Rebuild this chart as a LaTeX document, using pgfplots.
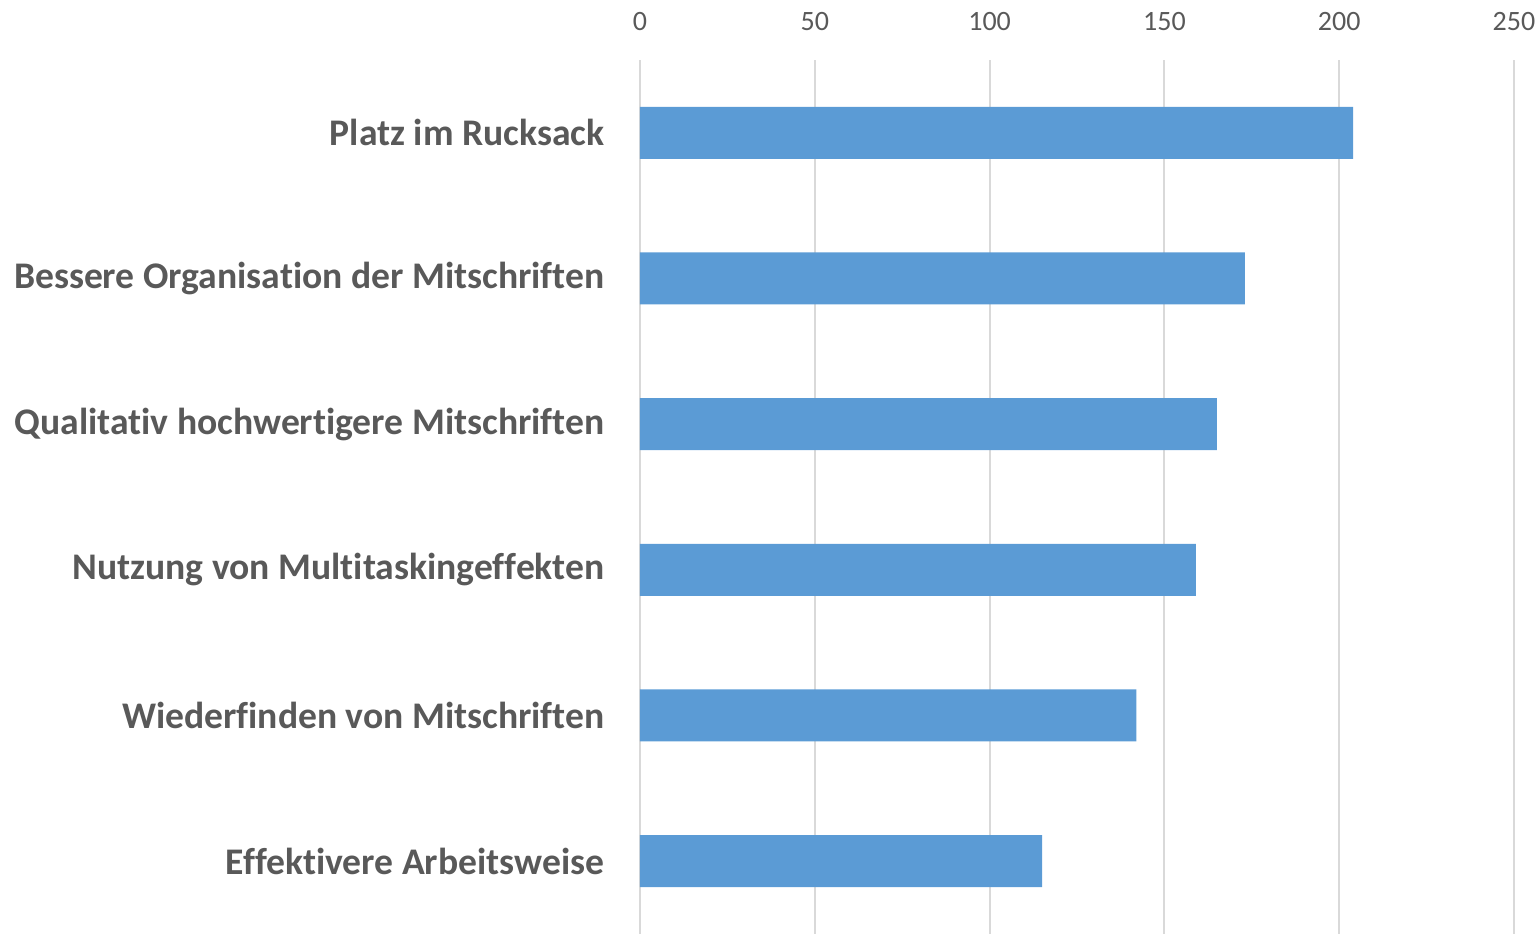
\documentclass[border=0pt]{standalone}
\usepackage{pgfplots}
\pgfplotsset{compat=1.18}
\usepackage{fontspec}
\setmainfont{Carlito}[Ligatures=NoCommon]
\definecolor{barblue}{HTML}{5B9BD5}
\definecolor{txtgray}{HTML}{595959}
\definecolor{gridgray}{HTML}{D9D9D9}
\begin{document}
\begin{tikzpicture}
\begin{axis}[
  name=ax,
  scale only axis,
  width=437pt, height=437pt,
  xbar,
  bar width=26pt,
  xmin=0, xmax=250,
  ymin=-0.5, ymax=5.5,
  xtick={0,50,100,150,200,250},
  ytick={0,1,2,3,4,5},
  yticklabels={Effektivere Arbeitsweise,Wiederfinden von Mitschriften,Nutzung von Multitaskingeffekten,Qualitativ hochwertigere Mitschriften,Bessere Organisation der Mitschriften,Platz im Rucksack},
  xticklabel pos=upper,
  xmajorgrids,
  grid style={gridgray, line width=1pt},
  axis line style={draw=none},
  major tick style={draw=none},
  /pgf/number format/assume math mode=true,
  xticklabel style={font=\fontsize{14}{16}\selectfont, text=txtgray, yshift=11pt},
  yticklabel style={font=\fontsize{18.8}{22}\selectfont\bfseries, text=txtgray, xshift=-10pt},
]
\addplot[fill=barblue, draw=none] coordinates {(115,0) (142,1) (159,2) (165,3) (173,4) (204,5)};
\end{axis}
\pgfresetboundingbox
\path[use as bounding box] ([xshift=-320pt]ax.south west) rectangle ([xshift=12.5pt,yshift=30pt]ax.north east);
\end{tikzpicture}
\end{document}
